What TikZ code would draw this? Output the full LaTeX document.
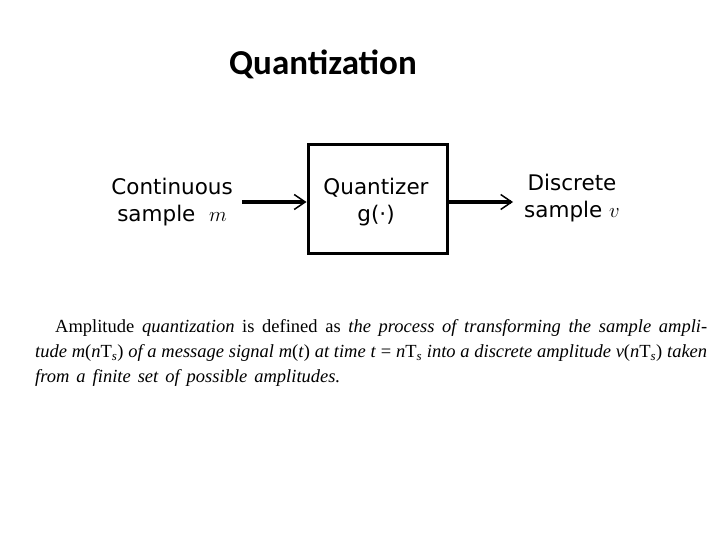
\documentclass[tikz,border=0pt]{standalone}
\usepackage{fontspec}
\setmainfont{Liberation Serif}
\newfontfamily\titlefont{Carlito}
\newfontfamily\diagfont{DejaVu Sans}
\usetikzlibrary{arrows.meta}
\begin{document}
\begin{tikzpicture}[x=1pt,y=-1pt,
  lbl/.style={font=\diagfont\fontsize{21.5}{27}\selectfont, align=center, inner sep=0pt},
  conn/.style={line width=3.5pt, -{Straight Barb[length=11pt,width=15pt,line width=1.5pt]}},
  para/.style={font=\fontsize{18.5}{25}\selectfont, anchor=west, inner sep=0pt}]
\useasboundingbox (0,0) rectangle (720,540);
\fill[white] (0,0) rectangle (720,540);
\node[font=\titlefont\bfseries\fontsize{35}{40}\selectfont, inner sep=0pt, anchor=base] (title) at (323,75) {Quantization};
\node[draw, line width=3pt, minimum width=139pt, minimum height=108pt, inner sep=0pt] (q) at (377.5,199) {};
\node[lbl] (qt) at (376,202) {Quantizer\\g(\textperiodcentered)};
\node[lbl, anchor=east] (in) at (233,202) {Continuous\\sample \ $m$};
\node[lbl, anchor=west] (out) at (524,198) {Discrete\\sample $v$};
\coordinate (ins) at (242,202);
\coordinate (oute) at (513,202);
\draw[conn] (ins) -- (ins -| q.west);
\draw[conn] (q.east |- oute) -- (oute);
\node[para] (l1) at (55,328) {\makebox[652pt][s]{Amplitude \textit{quantization} is defined as \textit{the process of transforming the sample ampli-}}};
\node[para] (l2) at (35,353) {\makebox[672pt][s]{\textit{tude m}(\textit{n}T\textsubscript{\textit{s}}) \textit{of a message signal m}(\textit{t}) \textit{at time t} = \textit{n}T\textsubscript{\textit{s}} \textit{into a discrete amplitude v}(\textit{n}T\textsubscript{\textit{s}}) \textit{taken}}};
\node[para] (l3) at (35,378) {\makebox[305pt][s]{\textit{from a finite set of possible amplitudes.}}};
\end{tikzpicture}
\end{document}
